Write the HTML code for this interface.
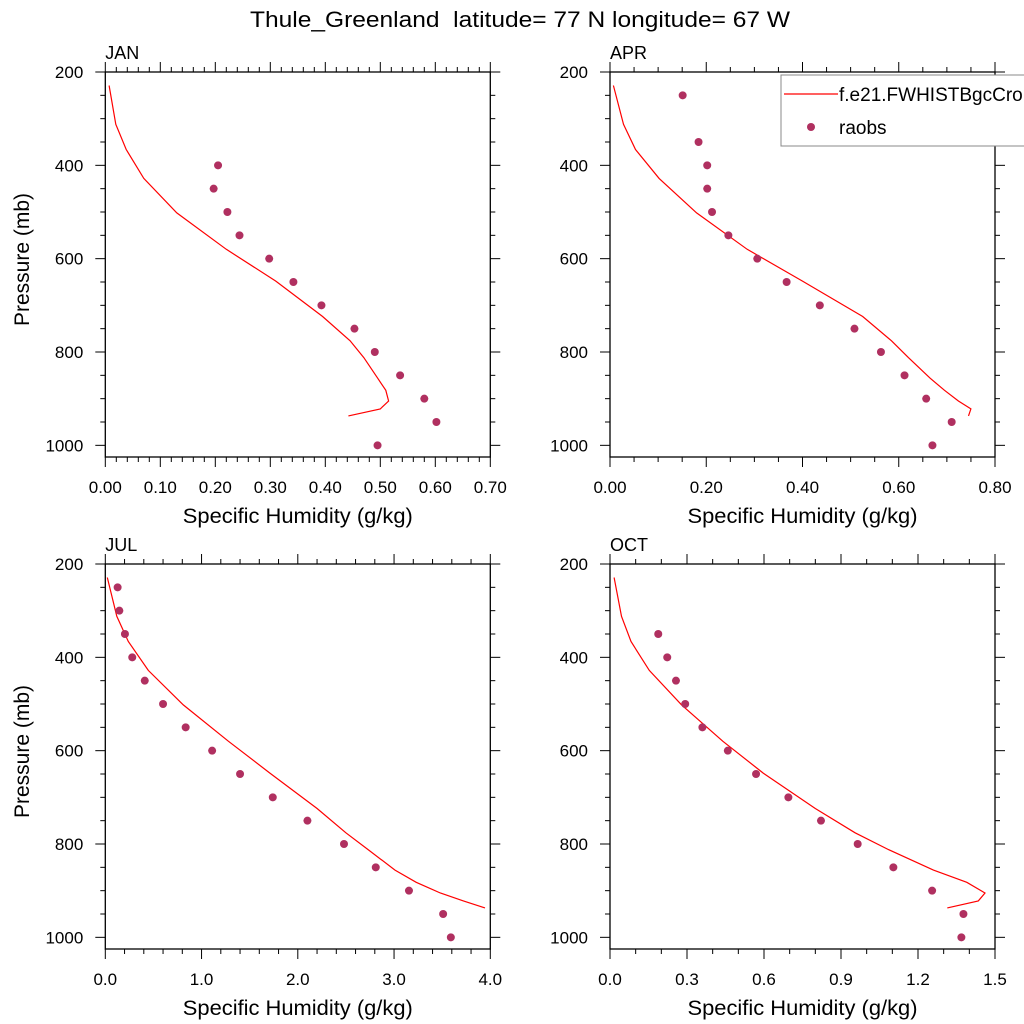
<!DOCTYPE html>
<html><head><meta charset="utf-8"><style>
body{margin:0;background:#fff;}
svg{display:block;font-family:"Liberation Sans",sans-serif;}
</style></head><body>
<svg id="chart" width="1024" height="1024" viewBox="0 0 1024 1024" xmlns="http://www.w3.org/2000/svg">
<rect width="1024" height="1024" fill="#fff"/>
<text x="250" y="27" font-size="22" textLength="540" lengthAdjust="spacingAndGlyphs">Thule_Greenland&#160; latitude= 77 N longitude= 67 W</text>
</svg>
<script>
const modelLevels=[229,312,366,428,502,580,648,724,776,812,856,882,905,922,937];
const janModel=[.007,.019,.038,.07,.13,.22,.31,.395,.445,.47,.495,.51,.515,.50,.442];
const aprModel=[.007,.028,.053,.102,.18,.285,.40,.525,.585,.62,.665,.695,.724,.75,.745];
const julModel=[.021,.12,.239,.447,.81,1.28,1.71,2.2,2.5,2.73,3.01,3.23,3.48,3.72,3.945];
const octModel=[.016,.045,.082,.153,.279,.44,.597,.80,.955,1.085,1.26,1.39,1.461,1.435,1.314];
const janObsP=[400,450,500,550,600,650,700,750,800,850,900,950,1000];
const janObs=[.205,.197,.222,.244,.298,.342,.393,.453,.49,.536,.58,.602,.495];
const aprObsP=[250,350,400,450,500,550,600,650,700,750,800,850,900,950,1000];
const aprObs=[.151,.184,.202,.202,.212,.246,.306,.367,.436,.508,.563,.612,.657,.71,.67];
const julObsP=[250,300,350,400,450,500,550,600,650,700,750,800,850,900,950,1000];
const julObs=[.128,.146,.204,.28,.41,.60,.835,1.11,1.40,1.74,2.10,2.48,2.81,3.155,3.51,3.59];
const octObsP=[350,400,450,500,550,600,650,700,750,800,850,900,950,1000];
const octObs=[.188,.223,.257,.293,.36,.459,.569,.695,.822,.965,1.104,1.255,1.377,1.369];
const janTicks=["0.00","0.10","0.20","0.30","0.40","0.50","0.60","0.70"];
const aprTicks=["0.00","0.20","0.40","0.60","0.80"];
const julTicks=["0.0","1.0","2.0","3.0","4.0"];
const octTicks=["0.0","0.3","0.6","0.9","1.2","1.5"];
const yTicks=[200,400,600,800,1000];

const NS="http://www.w3.org/2000/svg";
const svg=document.getElementById('chart');
function mk(tag,attrs,parent){const e=document.createElementNS(NS,tag);for(const k in attrs)e.setAttribute(k,attrs[k]);(parent||svg).appendChild(e);return e;}

const panels=[
 {name:'jan',label:'JAN',x0:105.3,y0:72,xmax:0.7,ticks:janTicks,minorN:5,model:janModel,obsP:janObsP,obs:janObs,ytitle:true},
 {name:'apr',label:'APR',x0:610,y0:72,xmax:0.8,ticks:aprTicks,minorN:4,model:aprModel,obsP:aprObsP,obs:aprObs,ytitle:false},
 {name:'jul',label:'JUL',x0:105.3,y0:564,xmax:4.0,ticks:julTicks,minorN:5,model:julModel,obsP:julObsP,obs:julObs,ytitle:true},
 {name:'oct',label:'OCT',x0:610,y0:564,xmax:1.5,ticks:octTicks,minorN:3,model:octModel,obsP:octObsP,obs:octObs,ytitle:false}
];
const W=385,H=385,PMIN=200,PMAX=1025;
panels.forEach(p=>{
 const g=mk('g',{});
 
 
 const xs=v=>p.x0+v/p.xmax*W;
 const ys=v=>p.y0+(v-PMIN)/(PMAX-PMIN)*H;
 const L=p.x0,R=p.x0+W,T=p.y0,B=p.y0+H;
 const nMaj=p.ticks.length-1, step=p.xmax/nMaj;
 for(let i=0;i<=nMaj*p.minorN;i++){
  const v=i*step/p.minorN, x=xs(v), maj=i%p.minorN===0, len=maj?10:5;
  mk('line',{x1:x,x2:x,y1:B,y2:B+len,stroke:'#000','stroke-width':1},g);
  mk('line',{x1:x,x2:x,y1:T,y2:T-len,stroke:'#000','stroke-width':1},g);
 }
 for(let pr=200;pr<=1000;pr+=50){
  const y=ys(pr), maj=pr%200===0, len=maj?10:5;
  mk('line',{x1:L,x2:L-len,y1:y,y2:y,stroke:'#000','stroke-width':1},g);
  mk('line',{x1:R,x2:R+len,y1:y,y2:y,stroke:'#000','stroke-width':1},g);
 }
 const fr=mk('rect',{x:L,y:T,width:W,height:H,fill:'none',stroke:'#000','stroke-width':1.3},g);
 
 
 p.ticks.forEach((t,i)=>{
  const tx=mk('text',{x:xs(i*step),y:B+36,'font-size':17,'text-anchor':'middle'},g);
  tx.textContent=t;
  
  
 });
 yTicks.forEach(v=>{
  const tx=mk('text',{x:L-22,y:ys(v)+6,'font-size':17,'text-anchor':'end'},g);
  tx.textContent=v;
  
  
 });
 const xt=mk('text',{x:L+W/2,y:B+66,'font-size':21,'text-anchor':'middle',textLength:230,lengthAdjust:'spacingAndGlyphs'},g);
 xt.textContent='Specific Humidity (g/kg)';
 
 
 if(p.ytitle){
  const yt=mk('text',{x:0,y:0,'font-size':21,'text-anchor':'middle',transform:`translate(29,${T+H/2-5}) rotate(-90)`},g);
  yt.textContent='Pressure (mb)';
  
  
 }
 const lb=mk('text',{x:L,y:T-13,'font-size':18},g);
 lb.textContent=p.label;
 
 
 const pts=p.model.map((v,i)=>xs(v).toFixed(1)+','+ys(modelLevels[i]).toFixed(1)).join(' ');
 const pl=mk('polyline',{points:pts,fill:'none',stroke:'#ff0000','stroke-width':1.2},g);
 
 
 p.obs.forEach((v,i)=>{
  const c=mk('circle',{cx:xs(v),cy:ys(p.obsP[i]),r:4,fill:'#b03060'},g);
  
  
 });
});
const lg=mk('g',{});


mk('rect',{x:781,y:75,width:260,height:71,fill:'#fff',stroke:'#888','stroke-width':1},lg);
mk('line',{x1:784,x2:838,y1:94,y2:94,stroke:'#ff0000','stroke-width':1.2},lg);
const t1=mk('text',{x:839,y:101,'font-size':19},lg);
t1.textContent='f.e21.FWHISTBgcCrop';


mk('circle',{cx:811,cy:127,r:4,fill:'#b03060'},lg);
const t2=mk('text',{x:839,y:134,'font-size':19},lg);
t2.textContent='raobs';


</script>
</body></html>
